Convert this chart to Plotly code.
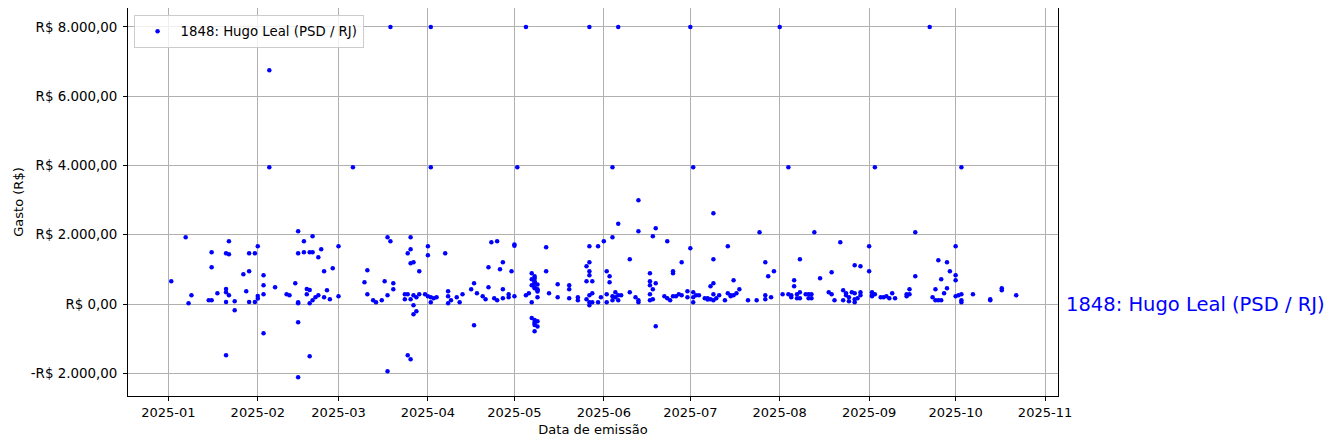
import plotly.graph_objects as go

# ---- data (day of month + value, per month of 2025) ----
jan_day = [2,7,8,9,15,16,16,16,18,21,21,21,21,21,22,22,22,24,24,27,28,29,29,29,31,31]
jan_val = [655,1926,20,250,107,1060,1493,107,309,1464,58,-1482,433,338,1435,1811,250,78,-182,857,367,1464,58,944,1464,58]

feb_day = [1,1,1,3,3,3,3,5,5,7,11,12,14,15,15,15,15,15,15,17,17,18,18,19,19,19,19,20,20,20,21,22,22,23,24,24,25,26,27]
feb_val = [1666,230,160,280,829,540,-846,6749,3950,482,280,250,598,2100,1464,49,-529,-2117,20,1811,1493,433,280,20,404,-1510,1493,1493,1955,107,193,1349,250,1580,193,944,395,136,1031]

mar_day = [1,1,6,10,11,11,13,14,16,17,18,18,18,19,19,20,20,24,24,25,25,25,26,26,26,26,26,27,27,27,27,28,28,29,29,31]
mar_val = [1666,222,3950,627,280,973,107,49,107,655,1926,250,-1944,8000,1811,598,425,280,136,1464,-1482,280,1175,136,1926,1580,-1597,1204,250,-38,-297,193,-211,944,280,280]

apr_day = [1,1,1,2,2,2,2,3,4,7,8,8,8,9,11,12,13,16,17,17,18,20,21,22,22,23,24,25,25,26,27,27,27,29,29,30]
apr_val = [1666,1406,222,8000,3950,49,193,165,193,1464,367,222,20,107,193,49,280,425,598,-615,309,222,136,1060,482,1782,165,107,1811,1002,1204,425,165,193,280,944]

may_day = [1,1,1,2,5,5,6,7,
           7,7,7,8,8,8,8,8,8,8,9,9,9,9,
           7,8,8,8,8,9,9,8,
           9,12,12,13,16,16,20,20,20,23,23,26,26,26,27,27,27,27,27,27,27,27,28,28,28,30,30,31]
may_val = [1720,1680,222,3950,250,8000,309,49,
           887,713,540,800,655,598,482,620,740,453,425,395,360,560,
           -404,-460,-520,-560,-606,-500,-650,-788,
           193,1637,944,309,569,193,540,165,425,193,107,1089,655,136,8000,1204,250,49,944,829,1666,-38,655,309,49,1666,49,193]

jun_day = [1,2,2,2,3,3,4,4,4,4,5,5,6,6,6,6,7,10,10,12,13,13,13,13,17,17,17,17,17,18,18,18,19,19,19,22,23,23,24,25,25,25,26,27,28,28,30,30]
jun_val = [1811,944,280,49,800,627,222,3950,1926,107,193,338,250,107,8000,2319,250,1291,338,193,2100,49,2995,107,887,655,540,280,107,1955,425,136,2186,598,-644,222,1811,165,107,222,944,887,222,280,1204,250,367,193]

jul_day = [1,1,2,2,2,2,3,4,6,7,7,8,8,9,9,9,9,9,10,11,13,14,14,15,15,16,16,17,18,21,24,25,27,27,27,28,29,30]
jul_val = [1608,8000,3950,338,193,49,250,250,165,165,130,511,136,2619,598,107,1291,280,165,250,107,1666,309,222,250,684,250,309,425,107,107,2071,1204,250,136,800,193,944]

aug_day = [1,2,4,4,5,5,6,6,7,7,8,8,8,10,11,11,12,12,13,15,18,19,19,20,22,23,23,24,24,25,25,26,27,27,27,27,28,29,29,29]
aug_val = [8000,280,3950,280,193,250,684,511,280,165,1291,338,165,280,280,165,280,165,2071,742,338,280,915,107,1782,395,107,309,250,193,78,338,309,49,1118,136,165,338,1089,250]

sep_day = [1,1,2,2,2,3,3,5,6,7,8,9,10,14,14,15,15,17,17,22,23,24,24,25,25,26,26,27,28,28,29]
sep_val = [1666,944,338,250,222,3950,280,193,193,222,165,309,165,222,280,425,280,2071,800,8000,193,425,107,107,1262,713,107,309,1204,453,944]

oct_day = [1,1,1,1,2,3,3,3,3,7,13,13,17,17,22]
oct_val = [1666,829,684,222,250,280,107,49,3950,280,136,110,453,400,250]

tick_months = ["2025-01","2025-02","2025-03","2025-04","2025-05","2025-06",
               "2025-07","2025-08","2025-09","2025-10","2025-11"]
y_ticks = [-2000, 0, 2000, 4000, 6000, 8000]
y_labels = ["-R$ 2.000,00", "R$ 0,00", "R$ 2.000,00", "R$ 4.000,00", "R$ 6.000,00", "R$ 8.000,00"]
series_name = "1848: Hugo Leal (PSD / RJ)"

# ---- assemble ----
months = [(1, jan_day, jan_val), (2, feb_day, feb_val), (3, mar_day, mar_val),
          (4, apr_day, apr_val), (5, may_day, may_val), (6, jun_day, jun_val),
          (7, jul_day, jul_val), (8, aug_day, aug_val), (9, sep_day, sep_val),
          (10, oct_day, oct_val)]
xs, ys = [], []
for m, days, vals in months:
    for d, v in zip(days, vals):
        xs.append(f"2025-{m:02d}-{d:02d}")
        ys.append(v)

font = "DejaVu Sans"
fig = go.Figure()
fig.add_trace(go.Scatter(
    x=xs, y=ys, mode="markers", name=series_name,
    marker=dict(color="blue", size=4.5, line=dict(width=0)),
))

fig.update_layout(
    width=1334, height=448,
    margin=dict(l=120, r=284, t=0, b=60),
    paper_bgcolor="white", plot_bgcolor="white",
    font=dict(family=font, size=13, color="black"),
    showlegend=True,
    legend=dict(x=0.006, y=0.982, xanchor="left", yanchor="top",
                bgcolor="rgba(255,255,255,0.8)", bordercolor="#cccccc", borderwidth=1,
                itemwidth=36,
                font=dict(family=font, size=13.3)),
    xaxis=dict(
        type="date",
        range=["2024-12-18", "2025-11-05 12:00"],
        tickvals=[t + "-01" for t in tick_months], ticktext=tick_months,
        tickfont=dict(family=font, size=13),
        showgrid=True, gridcolor="#b0b0b0", gridwidth=0.8,
        showline=True, linecolor="black", linewidth=1, mirror=True,
        ticks="outside", ticklen=4, tickcolor="black",
        zeroline=False,
        title=dict(text="Data de emissão", font=dict(family=font, size=13), standoff=6),
    ),
    yaxis=dict(
        range=[-2657, 8548],
        tickvals=y_ticks, ticktext=y_labels,
        tickfont=dict(family=font, size=13.4),
        ticklabelstandoff=3,
        showgrid=True, gridcolor="#b0b0b0", gridwidth=0.8,
        showline=True, linecolor="black", linewidth=1, mirror=True,
        ticks="outside", ticklen=4, tickcolor="black",
        zeroline=False,
        title=dict(text="Gasto (R$)", font=dict(family=font, size=13), standoff=4),
    ),
    annotations=[dict(
        x=1.0065, xref="paper", y=0, yref="y",
        text=series_name, showarrow=False, xanchor="left", yanchor="middle",
        font=dict(family=font, size=19.5, color="blue"),
    )],
)

fig.write_html("out.html")
